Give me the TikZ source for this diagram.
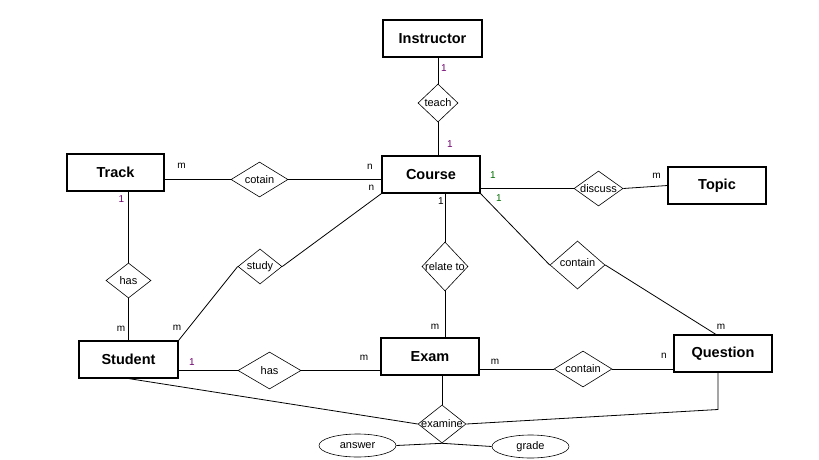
\documentclass[tikz,border=0pt]{standalone}
\usepackage{fontspec}
\setmainfont{Liberation Sans}
\usetikzlibrary{shapes.geometric,calc}
\definecolor{cardpurple}{RGB}{110,0,110}
\definecolor{cardgreen}{RGB}{0,110,0}
\tikzset{
  entity/.style={draw, line width=1.1pt, minimum width=#1, minimum height=37pt, inner sep=0pt,
    font=\fontsize{14.5}{16}\selectfont\bfseries},
  entity/.default=98pt,
  rel/.style 2 args={draw, line width=0.6pt, shape=diamond, inner sep=0pt, minimum width=#1, minimum height=#2},
  reltext/.style={font=\fontsize{11}{12}\selectfont, inner sep=0pt},
  attr/.style={draw, line width=0.6pt, shape=ellipse, minimum width=77pt, minimum height=23pt, inner sep=0pt,
    font=\fontsize{11}{12}\selectfont},
  card/.style={font=\fontsize{10}{11}\selectfont, inner sep=0pt},
  conn/.style={line width=0.8pt},
}
\begin{document}
\begin{tikzpicture}[x=1pt,y=-1pt]
\useasboundingbox (0,0) rectangle (819,460);
% entities
\node[entity=99pt] (instr) at (432.5,38.5) {Instructor};
\node[entity] (course) at (431,174.5) {Course};
\node[entity=97pt] (track) at (115.5,172.5) {Track};
\node[entity] (topic) at (717,185.5) {Topic};
\node[entity=99pt] (student) at (128.5,359.5) {Student};
\node[entity] (exam) at (430,356.5) {Exam};
\node[entity] (question) at (723,353.5) {Question};
% relationships
\node[rel={40pt}{38pt}] (teach) at (438,103) {};
\node[reltext] at (teach) {teach};
\node[rel={57pt}{35pt}] (cotain) at (259.5,179.5) {};
\node[reltext] at (cotain) {cotain};
\node[rel={49pt}{35pt}] (discuss) at (598.5,188.5) {};
\node[reltext] at (discuss) {discuss};
\node[rel={46pt}{49pt}] (relate) at (445,266.5) {};
\node[reltext] at (relate) {relate to};
\node[rel={55pt}{48pt}] (containCQ) at (577.5,265) {};
\node[reltext] at ($(containCQ)+(0,-2)$) {contain};
\node[rel={45pt}{35pt}] (hasTS) at (128.5,280.5) {};
\node[reltext] at (hasTS) {has};
\node[rel={44pt}{35pt}] (study) at (260,266.5) {};
\node[reltext] at (study) {study};
\node[rel={63pt}{37pt}] (hasSE) at (269.5,370.5) {};
\node[reltext] at (hasSE) {has};
\node[rel={58pt}{36pt}] (containEQ) at (583,369) {};
\node[reltext] at (containEQ) {contain};
\node[rel={48pt}{38pt}] (examine) at (442,424) {};
\node[reltext] at (examine) {examine};
% attributes
\node[attr] (answer) at (357.5,445.5) {answer};
\node[attr] (grade) at (530.5,446.5) {grade};
\coordinate (qbend) at (718,409.5);
% connectors
\draw[conn] (teach.north) -- (teach.north |- instr.south);
\draw[conn] (teach.south) -- (teach.south |- course.north);
\draw[conn] (cotain.west) -- (cotain.west -| track.east);
\draw[conn] (cotain.east) -- (cotain.east -| course.west);
\draw[conn] (discuss.west) -- (discuss.west -| course.east);
\draw[conn] (discuss.east) -- (topic.west);
\draw[conn] (relate.north) -- (relate.north |- course.south);
\draw[conn] (relate.south) -- (relate.south |- exam.north);
\draw[conn] (course.south east) -- (containCQ.west);
\draw[conn] (containCQ.east) -- ($(question.north)+(-7,0)$);
\draw[conn] (containEQ.west) -- (containEQ.west -| exam.east);
\draw[conn] (containEQ.east) -- (containEQ.east -| question.west);
\draw[conn] (hasTS.north) -- (hasTS.north |- track.south);
\draw[conn] (hasTS.south) -- (hasTS.south |- student.north);
\draw[conn] (student.north east) -- (study.west);
\draw[conn] (study.east) -- (course.south west);
\draw[conn] (hasSE.west) -- (hasSE.west -| student.east);
\draw[conn] (hasSE.east) -- (hasSE.east -| exam.west);
\draw[conn] (examine.north) -- (examine.north |- exam.south);
\draw[conn] (student.south) -- (examine.west);
\draw[conn] (examine.east) -- (qbend) -- (qbend |- question.south);
\draw[conn] (answer.east) -- (examine.south) -- (grade.west);
% cardinalities
\node[card, text=cardpurple] (c1) at (444,68) {1};
\node[card, text=cardpurple] (c2) at (450,144.5) {1};
\node[card] (c3) at (181.5,165.5) {m};
\node[card] (c4) at (370,166.5) {n};
\node[card] (c5) at (371.5,187.5) {n};
\node[card, text=cardgreen] (c6) at (493,175.5) {1};
\node[card, text=cardgreen] (c7) at (499,198) {1};
\node[card] (c8) at (656.5,176) {m};
\node[card] (c9) at (441,201.5) {1};
\node[card] (c10) at (435,327) {m};
\node[card] (c11) at (721,326.5) {m};
\node[card] (c12) at (495,361.5) {m};
\node[card] (c13) at (664,355.5) {n};
\node[card, text=cardpurple] (c14) at (121.5,199) {1};
\node[card] (c15) at (121,329) {m};
\node[card] (c16) at (177,328) {m};
\node[card, text=cardpurple] (c17) at (192,362) {1};
\node[card] (c18) at (364,357.5) {m};
\end{tikzpicture}
\end{document}
